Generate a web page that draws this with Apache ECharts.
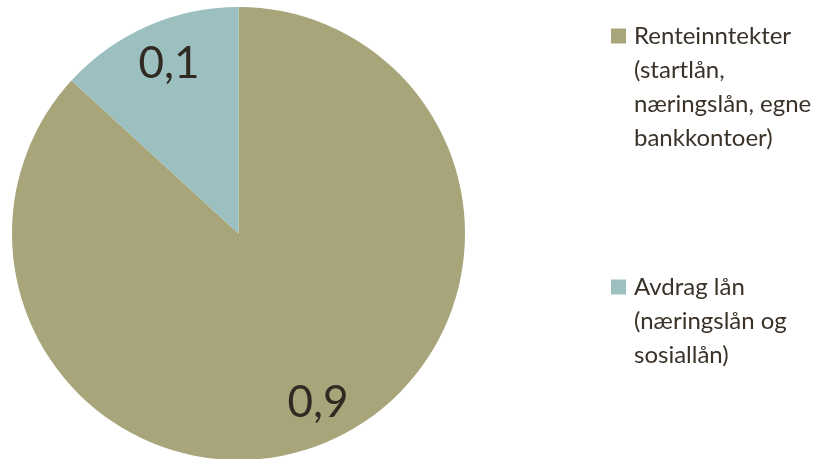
<!DOCTYPE html>
<html>
<head>
<meta charset="utf-8">
<script src="https://cdn.jsdelivr.net/npm/echarts@6/dist/echarts.min.js"></script>
<style>
html,body{margin:0;padding:0;background:#fff;}
#chart{width:833px;height:459px;}
</style>
</head>
<body>
<div id="chart"></div>
<script>
const categories = ['Renteinntekter\n(startlån,\nnæringslån, egne\nbankkontoer)', 'Avdrag lån\n(næringslån og\nsosiallån)'];
const values = [0.868, 0.132];
const colors = ['#A8A57B', '#9CC0C0'];

const chart = echarts.init(document.getElementById('chart'));
const fontFamily = 'Lato, "Open Sans", sans-serif';
const textColor = '#3A3228';
const lineH = 34;
function lineCount(s){ return s.split('\n').length; }
// pad with blank lines above so the first line sits level with the marker
function topAligned(name){ return '\n'.repeat(lineCount(name) - 1) + name; }

function legendFor(name, pos){
  return Object.assign({
    data: [name],
    orient: 'vertical',
    left: 606,
    padding: 5,
    itemWidth: 15,
    itemHeight: 15,
    itemGap: 0,
    icon: 'rect',
    formatter: topAligned,
    textStyle: { fontFamily, fontSize: 24, color: textColor, lineHeight: lineH, padding: [0, 0, 0, 3] },
    selectedMode: false
  }, pos);
}

const pieData = categories.map((c, i) => ({ name: c, value: values[i] }));

chart.setOption({
  animation: false,
  color: colors,
  legend: [
    legendFor(categories[0], { bottom: 299 }),
    legendFor(categories[1], { top: 197 })
  ],
  series: [
    {
      type: 'pie',
      center: [238.5, 233.5],
      radius: [0, 226.5],
      startAngle: 90,
      clockwise: true,
      data: pieData,
      label: { show: false },
      labelLine: { show: false },
      itemStyle: { borderWidth: 0 },
      emphasis: { disabled: true },
      silent: true
    },
    {
      type: 'pie',
      center: [238.5, 233.5],
      radius: [137, 227],
      startAngle: 90,
      clockwise: true,
      data: pieData,
      itemStyle: { color: 'rgba(0,0,0,0)', borderWidth: 0 },
      label: {
        show: true,
        position: 'inside',
        fontFamily,
        fontSize: 44,
        color: '#302A22',
        padding: [8, 0, 0, 10],
        formatter: p => p.value.toFixed(1).replace('.', ',')
      },
      labelLine: { show: false },
      emphasis: { disabled: true },
      silent: true
    }
  ]
});
</script>
</body>
</html>
